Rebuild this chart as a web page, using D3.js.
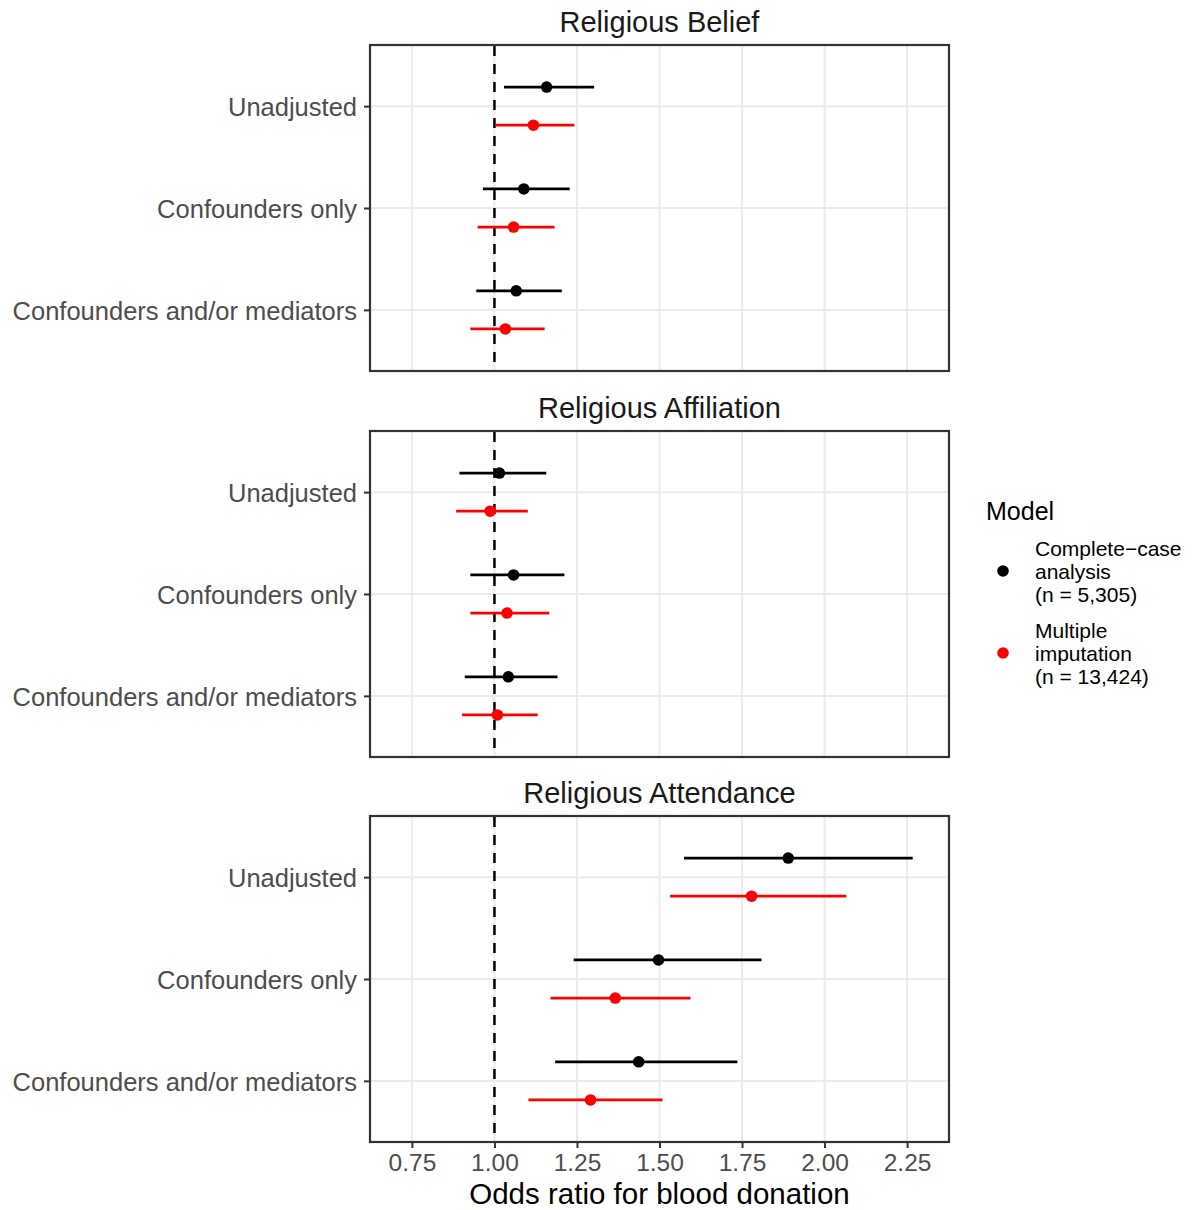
<!DOCTYPE html>
<html>
<head>
<meta charset="utf-8">
<script src="https://cdn.jsdelivr.net/npm/d3@7/dist/d3.min.js"></script>
<style>
  html, body { margin: 0; padding: 0; background: #fff; }
  svg { display: block; font-family: "Liberation Sans", Arial, sans-serif; }
</style>
</head>
<body>
<svg id="chart" width="1195" height="1210"></svg>
<script>
// Facets, model rows and the two estimation approaches
const panels = ["Religious Belief", "Religious Affiliation", "Religious Attendance"];
const models = ["Unadjusted", "Confounders only", "Confounders and/or mediators"];
const methods = ["Complete\u2212case analysis (n = 5,305)", "Multiple imputation (n = 13,424)"];
const methodColors = ["#000000", "#ff0000"];
const xTicks = [0.75, 1.00, 1.25, 1.50, 1.75, 2.00, 2.25];

// Odds ratios with 95% CI, per panel, rows follow `models`
const ccEstimate = [[1.158, 1.089, 1.066], [1.015, 1.058, 1.042], [1.890, 1.497, 1.437]];
const ccLower    = [[1.029, 0.965, 0.945], [0.894, 0.927, 0.910], [1.574, 1.240, 1.184]];
const ccUpper    = [[1.302, 1.228, 1.204], [1.157, 1.212, 1.191], [2.267, 1.809, 1.736]];
const miEstimate = [[1.118, 1.058, 1.033], [0.987, 1.038, 1.009], [1.779, 1.366, 1.291]];
const miLower    = [[1.002, 0.949, 0.927], [0.884, 0.927, 0.902], [1.532, 1.170, 1.103]];
const miUpper    = [[1.242, 1.182, 1.152], [1.101, 1.166, 1.131], [2.066, 1.594, 1.509]];

const legendLines = [
  ["Complete\u2212case", "analysis", "(n = 5,305)"],
  ["Multiple", "imputation", "(n = 13,424)"]
];

const svg = d3.select("#chart");
const left = 370, right = 949;
const panelTops = [45, 431, 816];
const panelH = 326;

const x = d3.scaleLinear().domain([0.623, 2.377]).range([left, right]);

const rows = [];
panels.forEach((p, pi) => {
  models.forEach((m, mi) => {
    rows.push({ panel: pi, model: m, method: 0, est: ccEstimate[pi][mi], lo: ccLower[pi][mi], hi: ccUpper[pi][mi] });
    rows.push({ panel: pi, model: m, method: 1, est: miEstimate[pi][mi], lo: miLower[pi][mi], hi: miUpper[pi][mi] });
  });
});

panels.forEach((title, pi) => {
  const top = panelTops[pi];
  const y = d3.scalePoint().domain(models).range([top, top + panelH]).padding(0.6);
  const dodge = y.step() * 0.187;
  const g = svg.append("g");

  // panel background and grid
  g.append("rect").attr("x", left).attr("y", top).attr("width", right - left).attr("height", panelH).attr("fill", "#fff");
  g.selectAll("line.vgrid").data(xTicks).join("line")
    .attr("x1", d => x(d)).attr("x2", d => x(d))
    .attr("y1", top).attr("y2", top + panelH)
    .attr("stroke", "#ebebeb").attr("stroke-width", 2);
  g.selectAll("line.hgrid").data(models).join("line")
    .attr("x1", left).attr("x2", right)
    .attr("y1", d => y(d)).attr("y2", d => y(d))
    .attr("stroke", "#ebebeb").attr("stroke-width", 2);

  // reference line at OR = 1
  g.append("line")
    .attr("x1", x(1)).attr("x2", x(1))
    .attr("y1", top + 1).attr("y2", top + panelH)
    .attr("stroke", "#000").attr("stroke-width", 2.5)
    .attr("stroke-dasharray", "10,8");

  const data = rows.filter(r => r.panel === pi);
  const yy = r => y(r.model) + (r.method === 0 ? -dodge : dodge);

  g.selectAll("line.ci").data(data).join("line")
    .attr("x1", r => x(r.lo)).attr("x2", r => x(r.hi))
    .attr("y1", yy).attr("y2", yy)
    .attr("stroke", r => methodColors[r.method]).attr("stroke-width", 2.8);
  g.selectAll("circle.pt").data(data).join("circle")
    .attr("cx", r => x(r.est)).attr("cy", yy).attr("r", 5.8)
    .attr("fill", r => methodColors[r.method]);

  // frame
  g.append("rect").attr("x", left).attr("y", top).attr("width", right - left).attr("height", panelH)
    .attr("fill", "none").attr("stroke", "#333").attr("stroke-width", 2.2);

  // y axis
  const yAxis = g.append("g").attr("transform", `translate(${left},0)`)
    .call(d3.axisLeft(y).tickSize(6).tickPadding(7));
  yAxis.select(".domain").remove();
  yAxis.selectAll(".tick line").attr("stroke", "#333").attr("stroke-width", 2);
  yAxis.selectAll(".tick text").attr("fill", "#4d4d4d").style("font-size", "25.5px")
    .attr("dy", "0.36em");

  // strip title
  svg.append("text").attr("x", (left + right) / 2).attr("y", top - 13)
    .attr("text-anchor", "middle").style("font-size", "29px").attr("fill", "#1a1a1a")
    .text(title);

  // x axis on bottom panel only
  if (pi === panels.length - 1) {
    const xAxis = g.append("g").attr("transform", `translate(0,${top + panelH})`)
      .call(d3.axisBottom(x).tickValues(xTicks).tickFormat(d3.format(".2f")).tickSize(6).tickPadding(5));
    xAxis.select(".domain").remove();
    xAxis.selectAll(".tick line").attr("stroke", "#333").attr("stroke-width", 2);
    xAxis.selectAll(".tick text").attr("fill", "#4d4d4d").style("font-size", "24.5px")
      .attr("dy", null).attr("y", 29).attr("dominant-baseline", "auto");
    svg.append("text").attr("x", (left + right) / 2).attr("y", top + panelH + 62)
      .attr("text-anchor", "middle").style("font-size", "29.5px").attr("fill", "#000")
      .text("Odds ratio for blood donation");
  }
});

// legend
const lg = svg.append("g");
lg.append("text").attr("x", 986).attr("y", 520).style("font-size", "25px").attr("fill", "#000").text("Model");
methods.forEach((m, i) => {
  const cy = [571, 653][i];
  lg.append("circle").attr("cx", 1003).attr("cy", cy).attr("r", 5.8).attr("fill", methodColors[i]);
  const t = lg.append("text").attr("x", 1035).style("font-size", "21px").attr("fill", "#000");
  legendLines[i].forEach((line, li) => {
    t.append("tspan").attr("x", 1035).attr("y", cy - 15 + li * 22.8).text(line);
  });
});
</script>
</body>
</html>
